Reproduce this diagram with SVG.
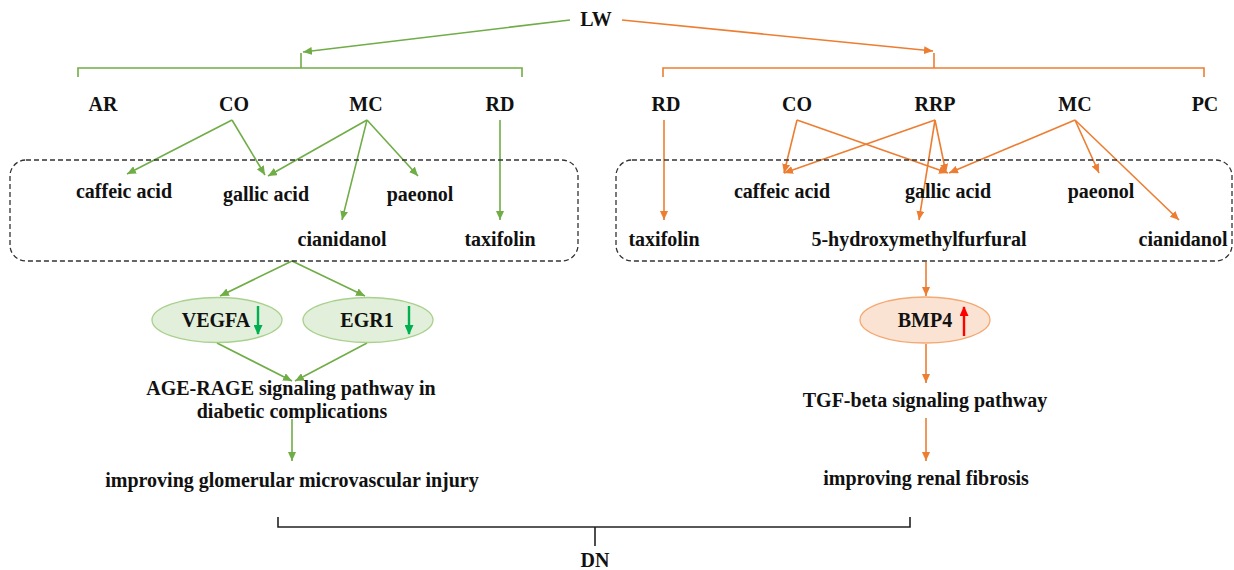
<svg xmlns="http://www.w3.org/2000/svg" width="1234" height="570" viewBox="0 0 1234 570">
<style>
text{font-family:"Liberation Serif","Times New Roman",serif;font-weight:bold;font-size:20px;fill:#111;text-anchor:middle}
.g{stroke:#70AD47;stroke-width:1.6;fill:none}
.o{stroke:#ED7D31;stroke-width:1.6;fill:none}
.k{stroke:#222;stroke-width:1.6;fill:none}
.ga{marker-end:url(#ag)}
.oa{marker-end:url(#ao)}
</style>
<defs>
<marker id="ag" markerUnits="userSpaceOnUse" markerWidth="9" markerHeight="8" refX="9" refY="4" orient="auto"><path d="M0,0 L9,4 L0,8 z" fill="#70AD47"/></marker>
<marker id="ao" markerUnits="userSpaceOnUse" markerWidth="9" markerHeight="8" refX="9" refY="4" orient="auto"><path d="M0,0 L9,4 L0,8 z" fill="#ED7D31"/></marker>
<marker id="ad" markerUnits="userSpaceOnUse" markerWidth="10" markerHeight="9" refX="9" refY="4.5" orient="auto"><path d="M0,0 L10,4.5 L0,9 z" fill="#00B050"/></marker>
<marker id="au" markerUnits="userSpaceOnUse" markerWidth="10" markerHeight="9" refX="9" refY="4.5" orient="auto"><path d="M0,0 L10,4.5 L0,9 z" fill="#FF0000"/></marker>
</defs>

<g id="connectors">
<path class="g ga" d="M570,20 L303,52"/>
<path class="g" d="M78,77 L78,68 L522,68 L522,77 M301,68 L301,53"/>
<path class="o oa" d="M622,20 L933,51"/>
<path class="o" d="M663,77 L663,68 L1204,68 L1204,77 M934,68 L934,53"/>
<path class="g ga" d="M232,120 L127,174"/>
<path class="g ga" d="M232,120 L265,175"/>
<path class="g ga" d="M367,120 L268,176"/>
<path class="g ga" d="M367,120 L418,176"/>
<path class="g ga" d="M367,120 L342,220"/>
<path class="g ga" d="M500,120 L500,220"/>
<path class="o oa" d="M664,120 L664,220"/>
<path class="o oa" d="M797,120 L784,173"/>
<path class="o oa" d="M797,120 L948,173"/>
<path class="o oa" d="M935,120 L784,173"/>
<path class="o oa" d="M935,120 L946,173"/>
<path class="o oa" d="M935,120 L919,220"/>
<path class="o oa" d="M1075,120 L949,173"/>
<path class="o oa" d="M1075,120 L1099,173"/>
<path class="o oa" d="M1075,120 L1179,220"/>
<path class="g ga" d="M292,261 L220,296"/>
<path class="g ga" d="M292,261 L365,296"/>
<path class="g ga" d="M217,343 L292,381"/>
<path class="g ga" d="M367,343 L295,381"/>
<path class="g ga" d="M292,419 L292,461"/>
<path class="o oa" d="M926,262 L926,296"/>
<path class="o oa" d="M926,344 L926,383"/>
<path class="o oa" d="M926,418 L926,461"/>
<path class="k" d="M278,517 L278,527 L910,527 L910,517 M595,527 L595,546"/>
</g>

<g id="boxes">
<rect x="10" y="160" width="568" height="101" rx="16" fill="none" stroke="#333" stroke-width="1.3" stroke-dasharray="5,3"/>
<rect x="616" y="160" width="616" height="101" rx="16" fill="none" stroke="#333" stroke-width="1.3" stroke-dasharray="5,3"/>
</g>

<g id="node-LW"><text x="596" y="26">LW</text></g>
<g id="node-AR-L"><text x="103" y="111">AR</text></g>
<g id="node-CO-L"><text x="234" y="111">CO</text></g>
<g id="node-MC-L"><text x="366" y="111">MC</text></g>
<g id="node-RD-L"><text x="500" y="111">RD</text></g>
<g id="node-RD-R"><text x="666" y="111">RD</text></g>
<g id="node-CO-R"><text x="797" y="111">CO</text></g>
<g id="node-RRP-R"><text x="935" y="111">RRP</text></g>
<g id="node-MC-R"><text x="1075" y="111">MC</text></g>
<g id="node-PC-R"><text x="1205" y="111">PC</text></g>

<g id="node-caffeic-L"><text x="124" y="198">caffeic acid</text></g>
<g id="node-gallic-L"><text x="266" y="201">gallic acid</text></g>
<g id="node-paeonol-L"><text x="420" y="201">paeonol</text></g>
<g id="node-cianidanol-L"><text x="342" y="246">cianidanol</text></g>
<g id="node-taxifolin-L"><text x="500" y="246">taxifolin</text></g>

<g id="node-caffeic-R"><text x="782" y="198">caffeic acid</text></g>
<g id="node-gallic-R"><text x="948" y="198">gallic acid</text></g>
<g id="node-paeonol-R"><text x="1101" y="198">paeonol</text></g>
<g id="node-taxifolin-R"><text x="664" y="246">taxifolin</text></g>
<g id="node-hmf-R"><text x="919" y="246">5-hydroxymethylfurfural</text></g>
<g id="node-cianidanol-R"><text x="1183" y="246">cianidanol</text></g>

<g id="node-VEGFA">
<ellipse cx="217" cy="320" rx="65" ry="22.5" fill="#E2EFDA" stroke="#A9D18E" stroke-width="1.3"/>
<text x="216" y="327">VEGFA</text>
<path d="M258,306 L258,334" stroke="#00B050" stroke-width="2.4" marker-end="url(#ad)"/>
</g>
<g id="node-EGR1">
<ellipse cx="368" cy="320" rx="65" ry="22.5" fill="#E2EFDA" stroke="#A9D18E" stroke-width="1.3"/>
<text x="367" y="327">EGR1</text>
<path d="M409,306 L409,334" stroke="#00B050" stroke-width="2.4" marker-end="url(#ad)"/>
</g>
<g id="node-BMP4">
<ellipse cx="925" cy="320" rx="65" ry="23" fill="#FBE3D4" stroke="#F4A872" stroke-width="1.3"/>
<text x="925" y="327">BMP4</text>
<path d="M964,336 L964,307" stroke="#FF0000" stroke-width="2.4" marker-end="url(#au)"/>
</g>

<g id="node-AGE"><text x="291" y="395">AGE-RAGE signaling pathway in</text><text x="292" y="418">diabetic complications</text></g>
<g id="node-glom"><text x="292" y="487">improving glomerular microvascular injury</text></g>
<g id="node-TGF"><text x="925" y="407">TGF-beta signaling pathway</text></g>
<g id="node-renal"><text x="926" y="485">improving renal fibrosis</text></g>
<g id="node-DN"><text x="595" y="567">DN</text></g>
</svg>
